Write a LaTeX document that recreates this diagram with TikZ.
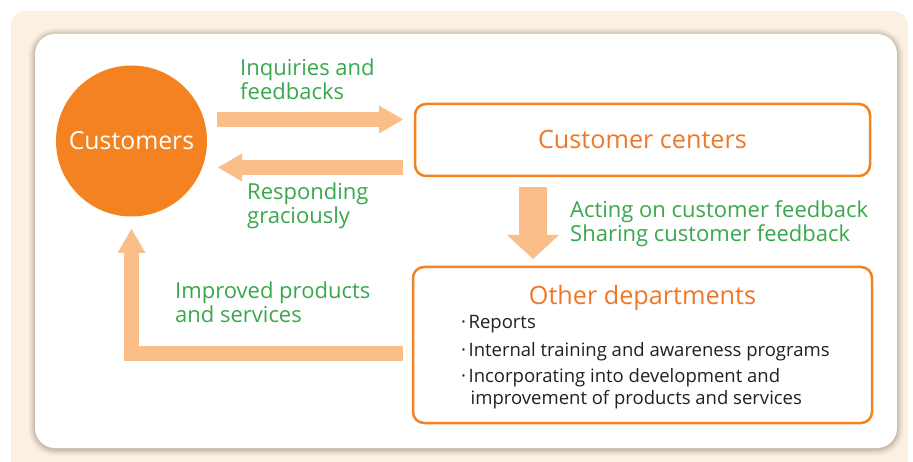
\documentclass[tikz,border=0pt]{standalone}
\usepackage{fontspec}
\setmainfont{Open Sans}
\usetikzlibrary{arrows.meta}
\definecolor{cream}{RGB}{252,240,225}
\definecolor{arrowor}{RGB}{250,190,136}
\definecolor{deeporange}{RGB}{245,130,32}
\definecolor{titleor}{RGB}{241,118,38}
\definecolor{lblgreen}{RGB}{57,168,76}
\definecolor{bodytext}{RGB}{35,31,32}
\newcommand{\bul}{·\kern2.5pt}
\begin{document}
\begin{tikzpicture}[x=1pt,y=-1pt,
  blockarrow/.style={draw=arrowor, line width=15pt, line join=miter, line cap=butt,
    -{Triangle[length=24pt,width=28pt,line width=0pt]}},
  fatarrow/.style={draw=arrowor, line width=28pt, line cap=butt,
    -{Triangle[length=24pt,width=52pt,line width=0pt]}},
  greenlbl/.style={text=lblgreen, inner sep=0pt, align=left, font=\fontsize{22}{24}\selectfont},
  orangebox/.style={draw=deeporange, line width=2.5pt, rounded corners=11pt, fill=white},
  boxtitle/.style={text=titleor, inner sep=0pt, font=\fontsize{25.2}{28}\selectfont},
  bullettext/.style={text=bodytext, inner sep=0pt, align=left, font=\fontsize{18.5}{21}\selectfont}
]
\useasboundingbox (0,0) rectangle (913,462);
% cream background
\fill[cream, rounded corners=15pt] (11,11) rectangle (908,480);
% soft shadow
\foreach \d/\o in {7/0.015,6/0.02,5/0.025,4/0.03,3/0.035,2/0.04,1/0.05}{
  \fill[black, opacity=\o, rounded corners=20pt+\d pt] (35-\d,34-\d+1) rectangle (897+\d,448+\d+1);
}
% white panel
\fill[white, rounded corners=20pt] (35,34) rectangle (897,448);

% nodes
\node[circle, fill=deeporange, minimum size=151pt, inner sep=0pt, text=white,
  font=\fontsize{24.8}{30}\selectfont] (cust) at (131.5,141) {Customers};
\node[orangebox, minimum width=455pt, minimum height=72pt] (cc) at (642.5,140) {};
\node[boxtitle] (cctitle) at (cc.center) {Customer centers};
\node[orangebox, minimum width=459pt, minimum height=156pt] (od) at (642.5,345) {};
\node[boxtitle, anchor=base] (odtitle) at (642.5,305) {Other departments};
\node[bullettext, anchor=base west] (b1) at (461,328) {\bul Reports};
\node[bullettext, anchor=base west] (b2) at (461,356) {\bul Internal training and awareness programs};
\node[bullettext, anchor=base west] (b3) at (461,382) {\bul Incorporating into development and};
\node[bullettext, anchor=base west] (b4) at (470.5,404) {improvement of products and services};

% labels (base anchor = last line)
\node[greenlbl, anchor=base west] (l1) at (240,100) {Inquiries and\\feedbacks};
\node[greenlbl, anchor=base west] (l2) at (247,224) {Responding\\graciously};
\node[greenlbl, anchor=base west] (l3) at (570,242) {Acting on customer feedback\\Sharing customer feedback};
\node[greenlbl, anchor=base west] (l4) at (175,323) {Improved products\\and services};

% connector ends
\coordinate (a1s) at (217,119.5);
\coordinate (a1e) at (403,119.5);
\coordinate (a2s) at (403,167.5);
\coordinate (a2e) at (218,167.5);
\coordinate (a3s) at (533,187);
\coordinate (a3e) at (533,259);
\coordinate (a4s) at (403,353.5);
\coordinate (a4c) at (131.5,353.5);
\coordinate (a4e) at (131.5,229);

\draw[blockarrow] (a1s) -- (a1e);
\draw[blockarrow] (a2s) -- (a2e);
\draw[fatarrow] (a3s) -- (a3e);
\draw[blockarrow] (a4s) -- (a4c) -- (a4e);
\end{tikzpicture}
\end{document}
